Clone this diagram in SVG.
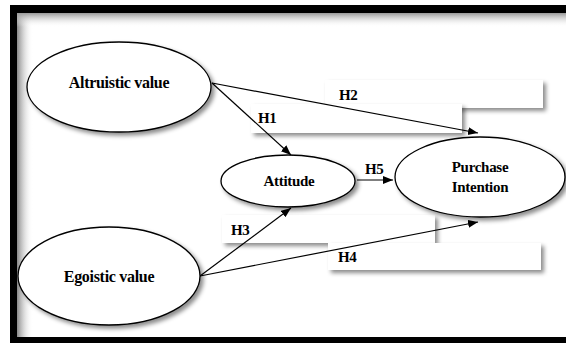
<svg xmlns="http://www.w3.org/2000/svg" width="566" height="343" viewBox="0 0 566 343">
<defs>
<style>
.node{fill:#fff;stroke:#000;stroke-width:1.3}
.lbl{font-weight:bold;font-size:16px;fill:#000;letter-spacing:-0.3px}
.sm{font-size:15px}
.hl{font-weight:bold;font-size:15px;fill:#000;letter-spacing:-0.3px}
.box{fill:#fff}
.edge{stroke:#000;stroke-width:1.2;fill:none;marker-end:url(#ah)}
</style>
<marker id="ah" markerUnits="userSpaceOnUse" markerWidth="12" markerHeight="10" refX="10" refY="4" orient="auto">
<path d="M0,0 L10,4 L0,8 Z" fill="#000"/>
</marker>
<filter id="sh" x="-20%" y="-20%" width="150%" height="160%">
<feDropShadow dx="3" dy="3" stdDeviation="2" flood-color="#000" flood-opacity="0.45"/>
</filter>
<linearGradient id="gl" x1="0" y1="0" x2="1" y2="0">
<stop offset="0" stop-color="#888"/>
<stop offset="1" stop-color="#fff" stop-opacity="0"/>
</linearGradient>
<linearGradient id="gt" x1="0" y1="0" x2="0" y2="1">
<stop offset="0" stop-color="#999"/>
<stop offset="1" stop-color="#fff" stop-opacity="0"/>
</linearGradient>
</defs>
<rect x="0" y="0" width="566" height="343" fill="#fff"/>
<g id="frame">
<rect x="10" y="5" width="556" height="338" fill="#000"/>
<rect x="17" y="13" width="549" height="324" fill="#fff"/>
<rect x="17" y="13" width="16" height="324" fill="url(#gl)"/>
<rect x="17" y="13" width="549" height="14" fill="url(#gt)"/>
</g>
<g id="boxes">
<rect class="box" x="325" y="80" width="218" height="28" filter="url(#sh)"/>
<rect class="box" x="251" y="104" width="211" height="29" filter="url(#sh)"/>
<rect class="box" x="222" y="215" width="213" height="28" filter="url(#sh)"/>
<rect class="box" x="328" y="243" width="213" height="27" filter="url(#sh)"/>
</g>
<g id="connectors" font-family="'Liberation Serif', 'Times New Roman', 'DejaVu Serif', serif">
<line class="edge" x1="212" y1="83" x2="291" y2="155"/>
<line class="edge" x1="212" y1="83" x2="478" y2="133"/>
<line class="edge" x1="357" y1="180" x2="393" y2="180"/>
<line class="edge" x1="200" y1="276" x2="291" y2="208"/>
<line class="edge" x1="200" y1="276" x2="478" y2="222"/>
<text class="hl" x="258" y="123">H1</text>
<text class="hl" x="339" y="100">H2</text>
<text class="hl" x="231" y="235">H3</text>
<text class="hl" x="338" y="262">H4</text>
<text class="hl" x="365" y="174">H5</text>
</g>
<g id="altruistic" font-family="'Liberation Serif', 'Times New Roman', 'DejaVu Serif', serif">
<ellipse class="node" cx="119" cy="87" rx="92" ry="45" filter="url(#sh)"/>
<text class="lbl" x="119" y="88" text-anchor="middle">Altruistic value</text>
</g>
<g id="egoistic" font-family="'Liberation Serif', 'Times New Roman', 'DejaVu Serif', serif">
<ellipse class="node" cx="109" cy="276" rx="91" ry="49" filter="url(#sh)"/>
<text class="lbl" x="109" y="282" text-anchor="middle" letter-spacing="0">Egoistic value</text>
</g>
<g id="attitude" font-family="'Liberation Serif', 'Times New Roman', 'DejaVu Serif', serif">
<ellipse class="node" cx="288" cy="181" rx="67" ry="26" filter="url(#sh)"/>
<text class="lbl sm" x="289" y="186" text-anchor="middle">Attitude</text>
</g>
<g id="purchase" font-family="'Liberation Serif', 'Times New Roman', 'DejaVu Serif', serif">
<ellipse class="node" cx="480" cy="177" rx="85" ry="40" filter="url(#sh)"/>
<text class="lbl sm" x="480" y="172" text-anchor="middle">Purchase</text>
<text class="lbl sm" x="480" y="192" text-anchor="middle">Intention</text>
</g>
</svg>
